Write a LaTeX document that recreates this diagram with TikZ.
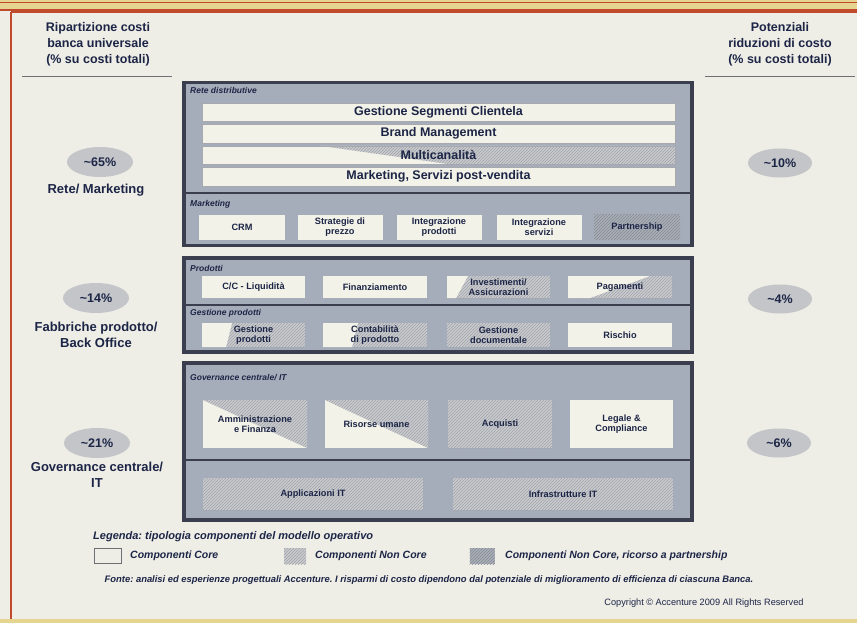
\documentclass[tikz,border=0pt]{standalone}
\usepackage{fontspec}
\setmainfont{Liberation Sans}
\usetikzlibrary{shapes.geometric,patterns}
\frenchspacing
\definecolor{bg}{HTML}{EEEDE6}
\definecolor{core}{HTML}{F3F2E8}
\definecolor{ncfill}{HTML}{C9CBCE}
\definecolor{ncline}{HTML}{A0A4AA}
\definecolor{pfill}{HTML}{A9AEB7}
\definecolor{pline}{HTML}{858B95}
\definecolor{blockfill}{HTML}{A6ADBA}
\definecolor{blockline}{HTML}{3A3E4E}
\definecolor{ink}{HTML}{1C2546}
\definecolor{ovalfill}{HTML}{C3C5C9}
\definecolor{framered}{HTML}{C24A2C}
\definecolor{stripyellow}{HTML}{E6D58E}
\definecolor{ruleg}{HTML}{6E7078}
\begin{document}
\begin{tikzpicture}[x=1pt,y=-1pt,
  every node/.append style={text=ink},
  hdr/.style={align=center,font=\fontsize{12.5}{16}\selectfont\bfseries},
  blockbox/.style={draw=blockline,line width=3.5pt,fill=blockfill,inner sep=0pt},
  sepline/.style={draw=blockline,line width=2.5pt},
  seclabel/.style={anchor=west,inner sep=0pt,font=\fontsize{8.5}{9}\selectfont\bfseries\itshape},
  bar/.style={fill=core,draw=ruleg!60,line width=0.4pt,inner sep=0pt,minimum width=473pt,minimum height=18.5pt,font=\fontsize{12.5}{13}\selectfont\bfseries},
  txtbox/.style={inner sep=0pt,align=center,font=\fontsize{9.2}{9.6}\selectfont\bfseries},
  cbox/.style={txtbox,fill=core},
  ncbox/.style={txtbox,fill=ncfill,postaction={pattern=north east lines,pattern color=ncline}},
  pbox/.style={txtbox,fill=pfill,postaction={pattern=north east lines,pattern color=pline}},
  hatch/.style={fill=ncfill,postaction={pattern=north east lines,pattern color=ncline}},
  oval/.style={ellipse,fill=ovalfill,inner sep=0pt,minimum width=66pt,minimum height=30pt,font=\fontsize{12.5}{14}\selectfont\bfseries},
  sidelab/.style={align=center,font=\fontsize{13}{16}\selectfont\bfseries},
  legtxt/.style={anchor=west,inner sep=0pt,font=\fontsize{10.5}{12}\selectfont\bfseries\itshape}
]
\useasboundingbox (0,0) rectangle (857,623);
% background and frame
\fill[bg] (0,0) rectangle (857,623);
\fill[stripyellow] (0,0) rectangle (857,9);
\draw[framered,line width=1pt] (0,2.5) -- (857,2.5);
\draw[framered,line width=1.2pt] (0,10) -- (857,10);
\draw[framered,line width=1.5pt] (11,12) -- (857,12);
\draw[framered,line width=1.5pt] (11,12) -- (11,623);
\fill[stripyellow] (0,619) rectangle (857,623);

% headers
\node[hdr] (hl) at (98,44) {Ripartizione costi\\banca universale\\(\% su costi totali)};
\node[hdr] (hr) at (780,44) {Potenziali\\riduzioni di costo\\(\% su costi totali)};
\coordinate (ul1) at (22,77); \coordinate (ul2) at (172,77);
\coordinate (ur1) at (705,77); \coordinate (ur2) at (855,77);
\draw[ruleg,line width=1pt] (ul1) -- (ul2);
\draw[ruleg,line width=1pt] (ur1) -- (ur2);

% ---- block 1: Rete distributive + Marketing
\node[blockbox,minimum width=508pt,minimum height=163pt] (b1) at (438,164) {};
\draw[sepline] (184,193) -- (692,193);
\node[seclabel] (l1) at (190,90) {Rete distributive};
\node[bar] (gs) at (438.5,112) {Gestione Segmenti Clientela};
\node[bar] (bm) at (438.5,133.5) {Brand Management};
\fill[core] (202,145.75) rectangle (675,164.25);
\fill[hatch] (320,145.75) -- (675,145.75) -- (675,164.25) -- (450,164.25) -- cycle;
\node[bar,fill=none] (mc) at (438.5,155) {Multicanalità};
\node[bar] (ms) at (438.5,176.5) {Marketing, Servizi post-vendita};

\node[seclabel] (l2) at (190,204) {Marketing};
\node[cbox,minimum width=86pt,minimum height=25pt] (crm) at (242,227) {CRM};
\node[cbox,minimum width=85pt,minimum height=25pt] (sp) at (340,227) {Strategie di\\prezzo};
\node[cbox,minimum width=85pt,minimum height=25pt] (ip) at (439,227) {Integrazione\\prodotti};
\node[cbox,minimum width=85pt,minimum height=25pt] (is) at (539,227) {Integrazione\\servizi};
\node[pbox,minimum width=86pt,minimum height=25pt] (pa) at (637,227) {Partnership};

% ---- block 2: Prodotti + Gestione prodotti
\node[blockbox,minimum width=508pt,minimum height=94pt] (b2) at (438,305) {};
\draw[sepline] (184,305) -- (692,305);
\node[seclabel] (l3) at (190,268) {Prodotti};
\node[cbox,minimum width=103pt,minimum height=22pt] (cc) at (253.5,287) {C/C - Liquidità};
\node[cbox,minimum width=104pt,minimum height=22pt] (fi) at (375,287) {Finanziamento};
% split backgrounds
\fill[hatch] (447,276) rectangle (550,298);
\fill[core] (447,276) -- (468,276) -- (456,298) -- (447,298) -- cycle;
\node[txtbox,minimum width=103pt,minimum height=22pt] (ia) at (498.5,287) {Investimenti/\\Assicurazioni};
\fill[hatch] (568,276) rectangle (672,298);
\fill[core] (568,276) -- (650,276) -- (590,298) -- (568,298) -- cycle;
\node[txtbox,minimum width=104pt,minimum height=22pt] (pg) at (620,287) {Pagamenti};

\node[seclabel] (l4) at (190,313) {Gestione prodotti};
\fill[hatch] (202,323) rectangle (305,347);
\fill[core] (202,323) -- (232,323) -- (226,347) -- (202,347) -- cycle;
\node[txtbox,minimum width=103pt,minimum height=24pt] (gp) at (253.5,335) {Gestione\\prodotti};
\fill[hatch] (323,323) rectangle (427,347);
\fill[core] (323,323) -- (358,323) -- (352,347) -- (323,347) -- cycle;
\node[txtbox,minimum width=104pt,minimum height=24pt] (cp) at (375,335) {Contabilità\\di prodotto};
\node[ncbox,minimum width=103pt,minimum height=24pt] (gd) at (498.5,335) {Gestione\\documentale};
\node[cbox,minimum width=104pt,minimum height=24pt] (ri) at (620,335) {Rischio};

% ---- block 3: Governance centrale / IT
\node[blockbox,minimum width=508pt,minimum height=157pt] (b3) at (438,441.5) {};
\draw[sepline] (184,460) -- (692,460);
\node[seclabel] (l5) at (190,378) {Governance centrale/ IT};
\fill[core] (203,400) rectangle (307,448);
\fill[hatch] (203,400) -- (307,400) -- (307,448) -- cycle;
\node[txtbox,minimum width=104pt,minimum height=48pt] (af) at (255,424) {Amministrazione\\e Finanza};
\fill[core] (325,400) rectangle (428,448);
\fill[hatch] (325,400) -- (428,400) -- (428,448) -- cycle;
\node[txtbox,minimum width=103pt,minimum height=48pt] (ru) at (376.5,424) {Risorse umane};
\node[ncbox,minimum width=104pt,minimum height=48pt] (aq) at (500,424) {Acquisti};
\node[cbox,minimum width=103pt,minimum height=48pt] (lc) at (621.5,424) {Legale \&\\Compliance};
\node[ncbox,minimum width=220pt,minimum height=32pt] (ap) at (313,494) {Applicazioni IT};
\node[ncbox,minimum width=220pt,minimum height=32pt] (in) at (563,494) {Infrastrutture IT};

% ---- side columns
\node[oval] (o1) at (100,162) {\textasciitilde 65\%};
\node[sidelab] (s1) at (96,190) {Rete/ Marketing};
\node[oval] (o2) at (96,298) {\textasciitilde 14\%};
\node[sidelab] (s2) at (96,335) {Fabbriche prodotto/\\Back Office};
\node[oval] (o3) at (97,443) {\textasciitilde 21\%};
\node[sidelab] (s3) at (97,475) {Governance centrale/\\IT};

\node[oval,minimum width=64pt,minimum height=29pt] (r1) at (780,163) {\textasciitilde 10\%};
\node[oval,minimum width=64pt,minimum height=29pt] (r2) at (780,299) {\textasciitilde 4\%};
\node[oval,minimum width=64pt,minimum height=29pt] (r3) at (779,443) {\textasciitilde 6\%};

% ---- legend
\node[legtxt,font=\fontsize{11}{12}\selectfont\bfseries\itshape] (lg) at (93,537) {Legenda: tipologia componenti del modello operativo};
\node[draw=ruleg,line width=0.8pt,fill=bg,minimum width=27pt,minimum height=15pt,inner sep=0pt] (sw1) at (108,556) {};
\node[legtxt] (t1) at (130,556) {Componenti Core};
\node[fill=ncfill,postaction={pattern=north east lines,pattern color=ncline},minimum width=22pt,minimum height=16pt,inner sep=0pt] (sw2) at (295,556) {};
\node[legtxt] (t2) at (315,556) {Componenti Non Core};
\node[fill=pfill,postaction={pattern=north east lines,pattern color=pline},minimum width=25pt,minimum height=16pt,inner sep=0pt] (sw3) at (482,556) {};
\node[legtxt] (t3) at (505,556) {Componenti Non Core, ricorso a partnership};

\node[inner sep=0pt,font=\fontsize{9.4}{10}\selectfont\bfseries\itshape] (fo) at (429,580) {Fonte: analisi ed esperienze progettuali Accenture. I risparmi di costo dipendono dal potenziale di miglioramento di efficienza di ciascuna Banca.};
\node[inner sep=0pt,font=\fontsize{9.2}{10}\selectfont] (cp2) at (704,603) {Copyright © Accenture 2009 All Rights Reserved};
\end{tikzpicture}
\end{document}
